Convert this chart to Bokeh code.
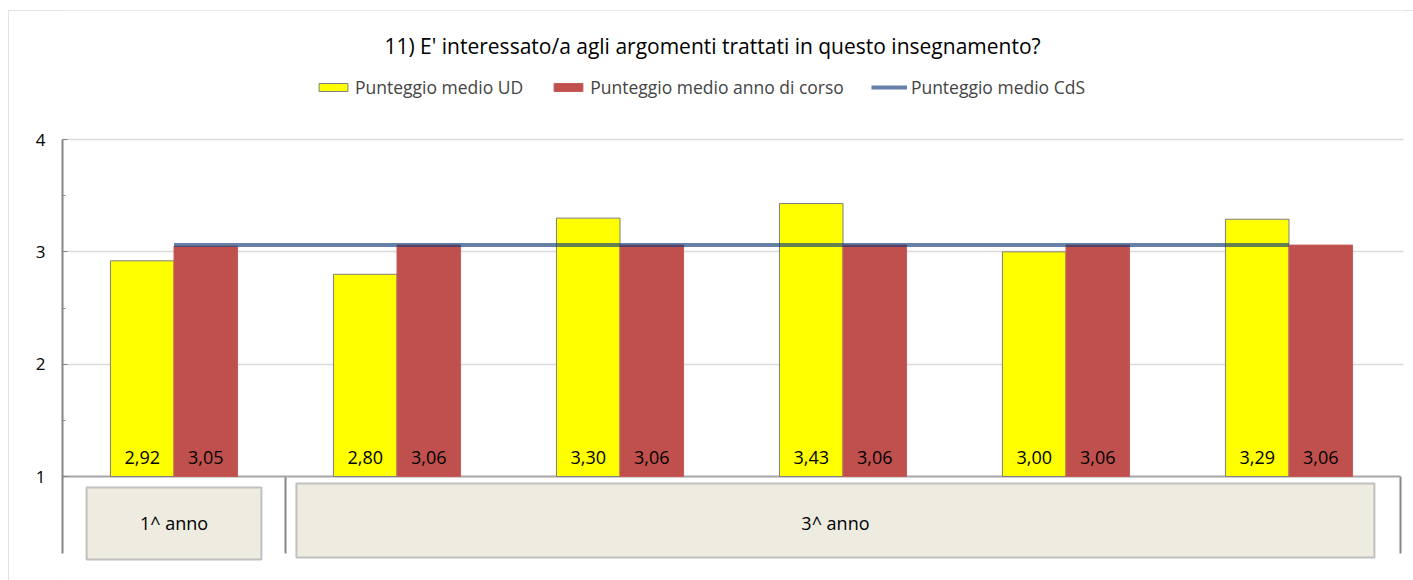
from bokeh.plotting import figure
from bokeh.models import (ColumnDataSource, Range1d, FixedTicker, Legend, LegendItem,
                          Label)
from bokeh.core.properties import value
from bokeh.embed import file_html
from bokeh.resources import INLINE

# ---------------- data ----------------
title_text = "11) E' interessato/a agli argomenti trattati in questo insegnamento?"
series_names = ["Punteggio medio UD", "Punteggio medio anno di corso", "Punteggio medio CdS"]
ud_values = [2.92, 2.80, 3.30, 3.43, 3.00, 3.29]
anno_values = [3.05, 3.06, 3.06, 3.06, 3.06, 3.06]
cds_values = [3.06, 3.06, 3.06, 3.06, 3.06, 3.06]
group_labels = ["1^ anno", "3^ anno"]
group_sizes = [1, 5]
y_ticks = [1, 2, 3, 4]

FONT = "Open Sans"
n = len(ud_values)
centers = [i + 0.5 for i in range(n)]
bw = 0.285

def fmt(v):
    return f"{v:.2f}".replace(".", ",")

src = ColumnDataSource(dict(
    xc=centers,
    xud=[c - bw / 2 for c in centers],
    xan=[c + bw / 2 for c in centers],
    ud=ud_values, an=anno_values, cds=cds_values,
    ud_lab=[fmt(v) for v in ud_values],
    an_lab=[fmt(v) for v in anno_values],
    lab_y=[1.17] * n,
))

# figure placed at page (8,10); frame spans full height
W, H = 1405, 570
ppu = 337.0 / 3.0           # pixels per unit on the value axis
y_end = 4 + 129 / ppu
y_start = y_end - H / ppu

p = figure(width=W, height=H, output_backend="svg", toolbar_location=None,
           x_range=Range1d(0, 6 + 3 / 223.0), y_range=Range1d(y_start, y_end),
           x_axis_location=None, min_border_left=54, min_border_right=10,
           min_border_top=0, min_border_bottom=0,
           background_fill_color="white", border_fill_color="white")
p.outline_line_color = None
p.styles = {"margin-left": "8px", "margin-top": "10px",
            "outline": "1px solid #d9d9d9", "outline-offset": "-1px"}

# axes / grid
p.xgrid.visible = False
p.ygrid.ticker = FixedTicker(ticks=[2, 3, 4])
p.ygrid.grid_line_color = "#d9d9d9"
p.ygrid.grid_line_width = 1.5
yax = p.yaxis[0]
yax.ticker = FixedTicker(ticks=y_ticks, minor_ticks=[1.5, 2.5, 3.5])
yax.bounds = (1 - 77 / ppu, 4)
yax.axis_line_color = "#868686"
yax.axis_line_width = 2
yax.major_tick_in = 5
yax.major_tick_out = 0
yax.minor_tick_in = 3
yax.minor_tick_out = 0
yax.major_tick_line_color = "#868686"
yax.minor_tick_line_color = "#868686"
yax.major_label_text_font = FONT
yax.major_label_text_font_size = "17px"
yax.major_label_text_color = "black"
yax.major_label_standoff = 17

# category boxes below the axis
box_left = [0.108, 1.049]
box_right = [0.892, 5.883]
box_top = [1 - 11 / ppu, 1 - 7 / ppu]
box_bot = [1 - 83 / ppu, 1 - 81 / ppu]
p.quad(left=box_left, right=box_right, top=box_top, bottom=box_bot,
       fill_color="#EEEBE0", line_color="#c0c0c0", line_width=2)
starts = [0]
for s in group_sizes:
    starts.append(starts[-1] + s)
p.text(x=[(l + r) / 2 for l, r in zip(box_left, box_right)], y=[1 - 46 / ppu] * 2,
       text=group_labels, text_font=value(FONT), text_font_size="18px",
       text_align="center", text_baseline="middle", text_color="black")

# separators of groups
sep_x = starts[1:]
p.segment(x0=sep_x, x1=sep_x, y0=[1] * len(sep_x), y1=[1 - 77 / ppu] * len(sep_x),
          line_color="#868686", line_width=2)
# category axis line
p.segment(x0=[0], x1=[6], y0=[1], y1=[1], line_color="#a6a6a6", line_width=2)

# bars
r_ud = p.vbar(x="xud", width=bw, bottom=1, top="ud", source=src,
              fill_color="#FFFF00", line_color="#7f7f7f", line_width=1)
r_an = p.vbar(x="xan", width=bw, bottom=1, top="an", source=src,
              fill_color="#C0504D", line_color="#C85A57", line_width=1)
r_cds = p.line(x="xc", y="cds", source=src, line_color="#143c78", line_alpha=0.65,
               line_width=4)

# data labels
p.text(x="xud", y="lab_y", text="ud_lab", source=src, text_font=value(FONT),
       text_font_size="18px", text_align="center", text_baseline="middle",
       text_color="black")
p.text(x="xan", y="lab_y", text="an_lab", source=src, text_font=value(FONT),
       text_font_size="18px", text_align="center", text_baseline="middle",
       text_color="black")

# title
p.add_layout(Label(x=712 - 62, y=580 - 45, x_units="screen", y_units="screen",
                   text=title_text, text_font=FONT, text_font_size="21px",
                   text_align="center", text_baseline="middle", text_color="black"))

# legend
legend = Legend(items=[LegendItem(label=series_names[0], renderers=[r_ud]),
                       LegendItem(label=series_names[1], renderers=[r_an]),
                       LegendItem(label=series_names[2], renderers=[r_cds])],
                orientation="horizontal", location=(315 - 62, 580 - 99),
                glyph_width=36, glyph_height=10, label_standoff=4, spacing=27,
                padding=0, margin=0, border_line_color=None,
                background_fill_alpha=0, label_text_font=FONT,
                label_text_font_size="17.5px", label_height=20)
p.add_layout(legend, "center")

open("out.html", "w").write(file_html(p, INLINE))
